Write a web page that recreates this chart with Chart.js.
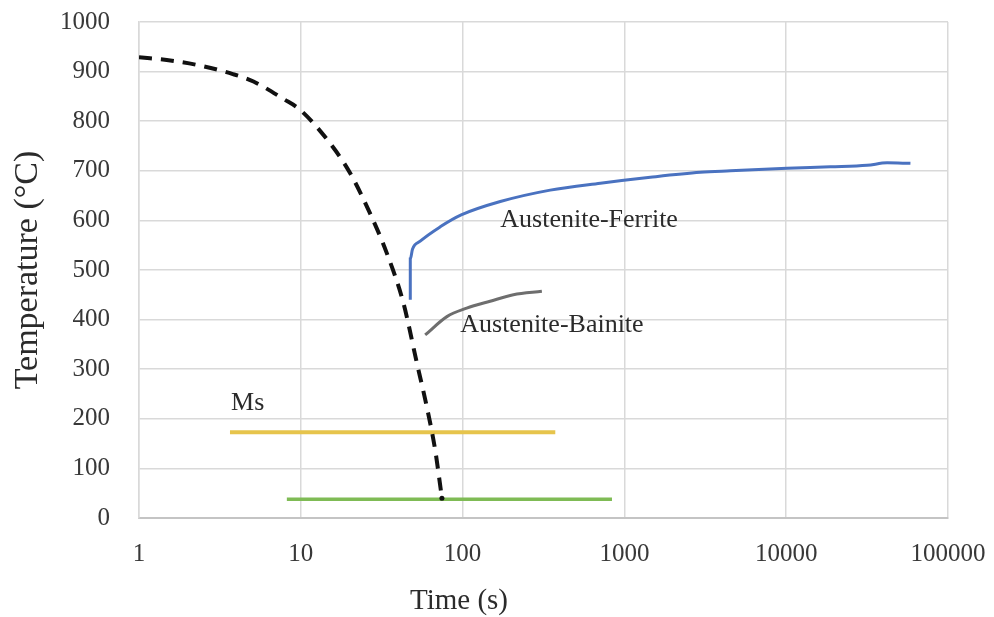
<!DOCTYPE html>
<html>
<head>
<meta charset="utf-8">
<script src="https://cdn.jsdelivr.net/npm/chart.js@4.4.1/dist/chart.umd.min.js"></script>
<style>
  body { margin: 0; background: #fff; }
  #wrap { width: 994px; height: 617px; }
</style>
</head>
<body>
<div id="wrap"><canvas id="cct-chart"></canvas></div>
<script>
// cooling curve (dashed)
const coolTime = [1, 1.6, 2.4, 3.8, 5.1, 7.8, 9.9, 15.2, 20.2, 26.8, 34, 43.1, 52.2, 60.1, 67.7, 74.5];
const coolTemp = [929, 922, 912, 895, 880, 845, 823, 755, 695, 614, 534, 433, 312, 224, 137, 40];
// austenite -> ferrite
const ferriteTime = [47.5, 47.5, 49, 54.7, 72.7, 98, 171, 348, 710, 1446, 2946, 4518, 10120, 18750, 31620, 42070, 58600];
const ferriteTemp = [440, 522, 542, 558, 587, 611, 638, 661, 675, 687, 697, 700, 705, 708, 711, 716, 715];
// austenite -> bainite
const bainiteTime = [58.7, 80, 106, 148, 206, 309];
const bainiteTemp = [369, 406, 423, 437, 450, 457];
// Ms line and finish line
const msTime = [3.65, 374];
const msTemp = [173, 173];
const finishTime = [8.2, 838];
const finishTemp = [38, 38];

const xTicks = [1, 10, 100, 1000, 10000, 100000];
const labelText = ["Austenite-Ferrite", "Austenite-Bainite", "Ms"];
const labelTime = [171, 96.7, 3.71];
const labelTemp = [601, 389, 232];

const pts = (xs, ys) => xs.map((x, i) => ({ x: x, y: ys[i] }));

// text labels inside the plot + x title
const textPlugin = {
  id: 'textPlugin',
  afterDatasetsDraw(chart) {
    const ctx = chart.ctx;
    const xs = chart.scales.x, ys = chart.scales.y;
    ctx.save();
    ctx.font = '26px "Liberation Serif"';
    ctx.fillStyle = '#2b2b2b';
    ctx.textBaseline = 'middle';
    ctx.textAlign = 'left';
    labelText.forEach((t, i) => {
      ctx.fillText(t, xs.getPixelForValue(labelTime[i]), ys.getPixelForValue(labelTemp[i]));
    });
    ctx.font = '29px "Liberation Serif"';
    ctx.textAlign = 'center';
    ctx.fillText('Time (s)', 459, 601);
    ctx.restore();
  }
};

new Chart("cct-chart", {
  type: "line",
  data: {
    datasets: [
      {
        label: "Cooling",
        data: pts(coolTime, coolTemp),
        borderColor: "#111",
        borderWidth: 4,
        borderDash: [13, 9],
        cubicInterpolationMode: "monotone",
        pointRadius: ctx => ctx.dataIndex === coolTime.length - 1 ? 2.5 : 0,
        pointBackgroundColor: "#111",
        pointBorderWidth: 0
      },
      {
        label: "Austenite-Ferrite",
        data: pts(ferriteTime, ferriteTemp),
        borderColor: "#4a72c0",
        borderWidth: 3,
        cubicInterpolationMode: "monotone",
        pointRadius: 0
      },
      {
        label: "Austenite-Bainite",
        data: pts(bainiteTime, bainiteTemp),
        borderColor: "#6e6e6e",
        borderWidth: 3,
        cubicInterpolationMode: "monotone",
        pointRadius: 0
      },
      {
        label: "Ms",
        data: pts(msTime, msTemp),
        borderColor: "#e6c44c",
        borderWidth: 4,
        pointRadius: 0
      },
      {
        label: "Finish",
        data: pts(finishTime, finishTemp),
        borderColor: "#7fbb55",
        borderWidth: 3.5,
        pointRadius: 0
      }
    ]
  },
  options: {
    responsive: true,
    maintainAspectRatio: false,
    animation: false,
    layout: { padding: { top: 22, right: 46, left: 0, bottom: 0 } },
    plugins: {
      legend: { display: false },
      tooltip: { enabled: false }
    },
    scales: {
      x: {
        type: "logarithmic",
        min: 1,
        max: 100000,
        afterBuildTicks: s => { s.ticks = xTicks.map(v => ({ value: v })); },
        afterFit: s => { s.height = 99; s.paddingLeft = 0; s.paddingRight = 0; },
        ticks: {
          callback: v => String(v),
          font: { family: "Liberation Serif", size: 25 },
          color: "#383838",
          padding: 21,
          maxRotation: 0,
          autoSkip: false
        },
        grid: { color: "#d9d9d9", lineWidth: 1.5, drawTicks: false },
        border: { color: "#c4c4c4", width: 2 }
      },
      y: {
        min: 0,
        max: 1000,
        afterFit: s => { s.width = 139; s.paddingTop = 0; s.paddingBottom = 0; },
        ticks: {
          stepSize: 100,
          callback: v => String(v),
          font: { family: "Liberation Serif", size: 25 },
          color: "#383838",
          padding: 29
        },
        grid: { color: "#d9d9d9", lineWidth: 1.5, drawTicks: false },
        border: { color: "#d9d9d9", width: 1.5 },
        title: {
          display: true,
          text: "Temperature (°C)",
          font: { family: "Liberation Serif", size: 34 },
          color: "#2b2b2b",
          padding: { top: 8, bottom: 0 }
        }
      }
    }
  },
  plugins: [textPlugin]
});
</script>
</body>
</html>
